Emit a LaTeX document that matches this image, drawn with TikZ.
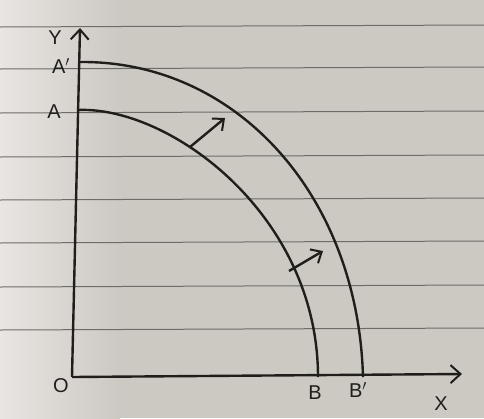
\documentclass[tikz,border=0pt]{standalone}
\usepackage{fontspec}
\setmainfont{Liberation Sans}
\usetikzlibrary{arrows.meta}
\definecolor{paper}{RGB}{204,201,195}
\definecolor{paperlight}{RGB}{232,229,226}
\definecolor{rule}{RGB}{110,108,104}
\definecolor{ink}{RGB}{32,30,27}
\tikzset{
  axis/.style={ink, line width=2.4pt, -{Straight Barb[length=10pt,width=18pt,line width=2pt]}},
  curve/.style={ink, line width=2.4pt},
  shift arrow/.style={ink, line width=2.4pt, -{Straight Barb[length=9pt,width=16pt,line width=2pt]}},
  lbl/.style={ink, font=\fontsize{20}{20}\selectfont},
  ruled/.style={rule, line width=1pt}
}
\begin{document}
\begin{tikzpicture}[x=1pt,y=-1pt]
\useasboundingbox (0,0) rectangle (484,418);
\shade[left color=paperlight, right color=paper, shading angle=90] (0,0) rectangle (120,418);
\fill[paper] (120,0) rectangle (484,418);
% ruled lines of the paper
\foreach \y in {27,69,113,157,200,243,287,330}
  \draw[ruled] (0,\y) -- (484,\y-2);
% axes
\coordinate (O) at (72,377);
\coordinate (Ytop) at (80,28);
\coordinate (Xend) at (462,374);
\draw[axis] (O) -- (Ytop);
\draw[axis] (O) -- (Xend);
% curves
\coordinate (A1) at (79,62);
\coordinate (B1) at (363,377);
\coordinate (A0) at (78,110);
\coordinate (B0) at (318,377);
\draw[curve] (A1) .. controls (236,60) and (358,195) .. (B1);
\draw[curve] (A0) .. controls (170,106) and (318,215) .. (B0);
% shift arrows
\coordinate (s1a) at (190,147);
\coordinate (s1b) at (225,118);
\coordinate (s2a) at (289,271);
\coordinate (s2b) at (323,251);
\draw[shift arrow] (s1a) -- (s1b);
\draw[shift arrow] (s2a) -- (s2b);
% labels
\node[lbl] (Y) at (55,38) {Y};
\node[lbl] (Ap) at (61,66) {A$'$};
\node[lbl] (A) at (54,112) {A};
\node[lbl] (Olbl) at (61,386) {O};
\node[lbl] (B) at (315,393) {B};
\node[lbl] (Bp) at (358,390) {B$'$};
\node[lbl] (X) at (441,404) {X};
\end{tikzpicture}
\end{document}
